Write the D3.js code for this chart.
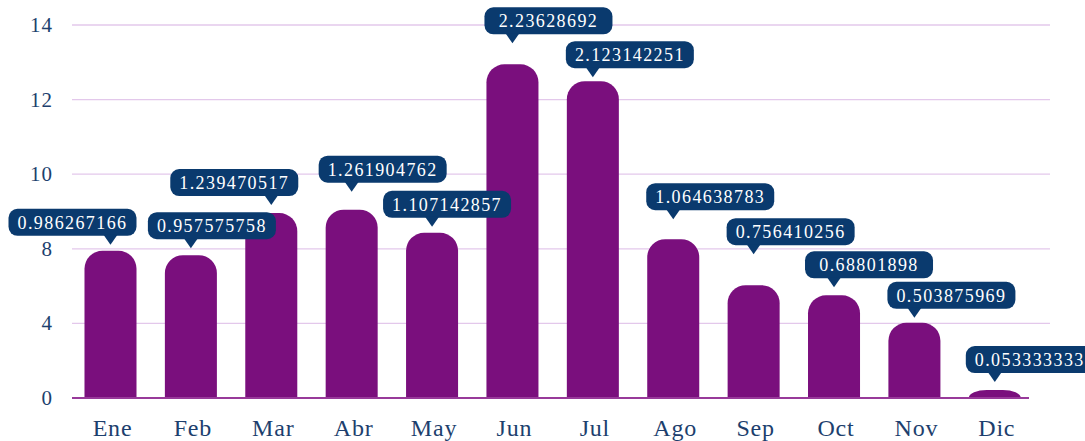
<!DOCTYPE html>
<html>
<head>
<meta charset="utf-8">
<script src="https://cdn.jsdelivr.net/npm/d3@7"></script>
<style>
  html, body { margin: 0; padding: 0; background: #ffffff; }
  svg { display: block; }
  svg text { font-family: "Liberation Serif", "DejaVu Serif", "Times New Roman", serif; }
</style>
</head>
<body>
<svg id="chart" width="1085" height="441"></svg>
<script>
// ---- data ----
const months = ["Ene","Feb","Mar","Abr","May","Jun","Jul","Ago","Sep","Oct","Nov","Dic"];
const values = [0.986267166, 0.957575758, 1.239470517, 1.261904762, 1.107142857, 2.23628692,
                2.123142251, 1.064638783, 0.756410256, 0.68801898, 0.503875969, 0.0533333333];
const labelTexts = ["0.986267166","0.957575758","1.239470517","1.261904762","1.107142857","2.23628692",
                    "2.123142251","1.064638783","0.756410256","0.68801898","0.503875969","0.0533333333"];
const tickValues = [0, 0.5, 1, 1.5, 2, 2.5];
const tickLabels = ["0","4","8","10","12","14"];

// ---- layout of the value bubbles (box-left offset from the bar centre, gap above the bar) ----
const bubbleDx  = [-102, -43, -101, -33, -49, -28, -27, -27, -27, -29, -27, -29];
const bubbleGap = [6, 7, 8, 18, 6, 21, 4, 20, 31, 8, 5, 8];

const svg = d3.select("#chart");
const navy = "#0a3a6e";
const textNavy = "#1d3f6e";
const barColor = "#7a0f7d";

const pad = 0.353;
const x = d3.scaleBand().domain(months).range([70.3, 1035]).paddingInner(pad).paddingOuter(pad / 2);
const y = d3.scaleLinear().domain([0, 2.5]).range([398, 25]);

// gridlines
svg.append("g").selectAll("line").data(tickValues.slice(1)).join("line")
  .attr("x1", 72).attr("x2", 1050)
  .attr("y1", d => y(d)).attr("y2", d => y(d))
  .attr("stroke", "#e3c8eb").attr("stroke-width", 1.3);

// y tick labels
svg.append("g").selectAll("text").data(tickValues).join("text")
  .attr("x", 53).attr("y", d => y(d))
  .attr("text-anchor", "end").attr("dominant-baseline", "central")
  .attr("font-size", 21).attr("letter-spacing", 1)
  .attr("fill", textNavy)
  .text((d, i) => tickLabels[i]);

// bars with rounded tops
function barPath(x0, w, yTop, yBase) {
  const h = yBase - yTop;
  const rx = Math.min(18, w / 2);
  const ry = Math.min(18, h);
  return `M${x0},${yBase} L${x0},${yTop + ry} A${rx},${ry} 0 0 1 ${x0 + rx},${yTop}` +
         ` L${x0 + w - rx},${yTop} A${rx},${ry} 0 0 1 ${x0 + w},${yTop + ry} L${x0 + w},${yBase} Z`;
}
svg.append("g").selectAll("path").data(values).join("path")
  .attr("d", (d, i) => barPath(x(months[i]), x.bandwidth(), y(d), y(0)))
  .attr("fill", barColor);

// baseline
svg.append("line").attr("x1", 72).attr("x2", 1029).attr("y1", y(0)).attr("y2", y(0))
  .attr("stroke", "#983a9a").attr("stroke-width", 2);

// month labels
svg.append("g").selectAll("text").data(months).join("text")
  .attr("x", d => x(d) + x.bandwidth() / 2 + 2)
  .attr("y", 436)
  .attr("text-anchor", "middle")
  .attr("font-size", 24).attr("letter-spacing", 0.8)
  .attr("fill", textNavy)
  .text(d => d);

// value bubbles
const bubbles = svg.append("g");
values.forEach((v, i) => {
  const cx = x(months[i]) + x.bandwidth() / 2;
  const tipY = y(v) - bubbleGap[i];
  const boxH = 27, ptrH = 9, ptrW = 7;
  const boxBottom = tipY - ptrH;
  const boxTop = boxBottom - boxH;
  const g = bubbles.append("g");
  const txt = g.append("text")
    .attr("font-size", 18).attr("letter-spacing", 1.4)
    .attr("fill", "#ffffff")
    .attr("text-anchor", "middle").attr("dominant-baseline", "central")
    .text(labelTexts[i]);
  const tw = txt.node().getComputedTextLength();
  const bw = Math.max(128, tw + 18);
  const left = cx + bubbleDx[i];
  g.insert("rect", "text")
    .attr("x", left).attr("y", boxTop).attr("width", bw).attr("height", boxH)
    .attr("rx", 9).attr("fill", navy);
  g.insert("path", "text")
    .attr("d", `M${cx - ptrW},${boxBottom - 1} L${cx + ptrW},${boxBottom - 1} L${cx},${tipY} Z`)
    .attr("fill", navy);
  txt.attr("x", left + bw / 2).attr("y", boxTop + boxH / 2 + 0.5);
});
</script>
</body>
</html>
